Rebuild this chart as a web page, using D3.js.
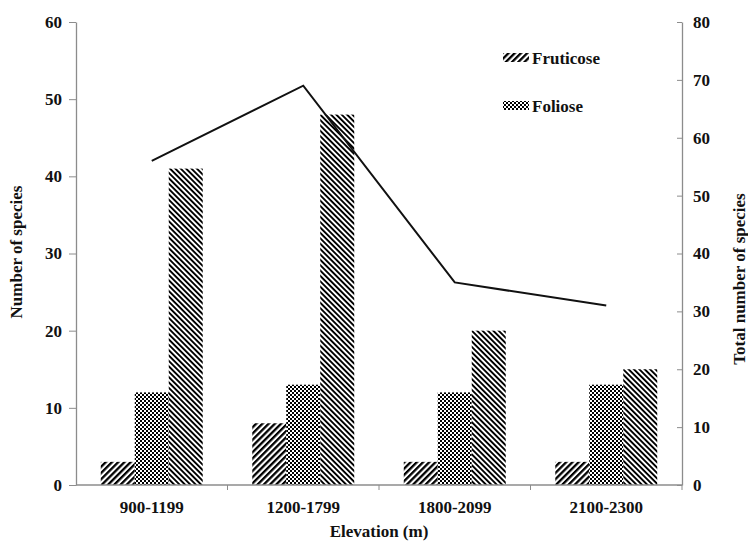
<!DOCTYPE html>
<html>
<head>
<meta charset="utf-8">
<script src="https://cdn.jsdelivr.net/npm/d3@7"></script>
<style>
  html, body { margin: 0; padding: 0; background: #fff; }
  svg text { font-family: "Liberation Serif", "Times New Roman", serif; font-weight: bold; fill: #111; }
</style>
</head>
<body>
<svg id="chart" width="748" height="542"></svg>
<script>
const categories = ["900-1199", "1200-1799", "1800-2099", "2100-2300"];
const seriesNames = ["Fruticose", "Foliose", "Crustose"];
const fruticose = [3, 8, 3, 3];
const foliose = [12, 13, 12, 13];
const crustose = [41, 48, 20, 15];
const totalSpecies = [56, 69, 35, 31];
const leftTicks = [0, 10, 20, 30, 40, 50, 60];
const rightTicks = [0, 10, 20, 30, 40, 50, 60, 70, 80];
const legendNames = ["Fruticose", "Foliose"];

const svg = d3.select("#chart");
const plot = { left: 76, right: 682, top: 22, bottom: 485 };
const fs = "17px";

const defs = svg.append("defs");
// Fruticose: "/" hatch
const p1 = defs.append("pattern").attr("id", "pat-fruticose")
  .attr("patternUnits", "userSpaceOnUse").attr("width", 4.4).attr("height", 10)
  .attr("patternTransform", "rotate(45)");
p1.append("rect").attr("width", 4.4).attr("height", 10).attr("fill", "#fff");
p1.append("rect").attr("width", 2.3).attr("height", 10).attr("fill", "#000");
// Foliose: fine checkerboard
const p2 = defs.append("pattern").attr("id", "pat-foliose")
  .attr("patternUnits", "userSpaceOnUse").attr("width", 4).attr("height", 4);
p2.append("rect").attr("width", 4).attr("height", 4).attr("fill", "#fff");
p2.append("rect").attr("width", 2).attr("height", 2).attr("fill", "#000");
p2.append("rect").attr("x", 2).attr("y", 2).attr("width", 2).attr("height", 2).attr("fill", "#000");
// Crustose: "\" hatch
const p3 = defs.append("pattern").attr("id", "pat-crustose")
  .attr("patternUnits", "userSpaceOnUse").attr("width", 3.8).attr("height", 10)
  .attr("patternTransform", "rotate(-45)");
p3.append("rect").attr("width", 3.8).attr("height", 10).attr("fill", "#fff");
p3.append("rect").attr("width", 1.9).attr("height", 10).attr("fill", "#000");

const fills = { "Fruticose": "url(#pat-fruticose)", "Foliose": "url(#pat-foliose)", "Crustose": "url(#pat-crustose)" };
const seriesData = { "Fruticose": fruticose, "Foliose": foliose, "Crustose": crustose };

const x = d3.scaleBand().domain(categories).range([plot.left, plot.right])
  .paddingInner(0.327).paddingOuter(0.1635);
const xs = d3.scaleBand().domain(seriesNames).range([0, x.bandwidth()]);
const yL = d3.scaleLinear().domain([0, 60]).range([plot.bottom, plot.top]);
const yR = d3.scaleLinear().domain([0, 80]).range([plot.bottom, plot.top]);

// Bars
categories.forEach((c, i) => {
  seriesNames.forEach(s => {
    const v = seriesData[s][i];
    svg.append("rect")
      .attr("x", x(c) + xs(s))
      .attr("y", yL(v))
      .attr("width", xs.bandwidth())
      .attr("height", yL(0) - yL(v))
      .attr("fill", fills[s]);
  });
});

// Axes
const axisColor = "#8c8c8c";
const gL = svg.append("g").attr("transform", `translate(${plot.left},0)`)
  .call(d3.axisLeft(yL).tickValues(leftTicks).tickSize(7).tickPadding(7).tickSizeOuter(0));
const gR = svg.append("g").attr("transform", `translate(${plot.right},0)`)
  .call(d3.axisRight(yR).tickValues(rightTicks).tickSize(-5).tickPadding(11).tickSizeOuter(0));
[gL, gR].forEach(g => {
  g.select(".domain").attr("stroke", axisColor).attr("stroke-width", 1.3);
  g.selectAll(".tick line").attr("stroke", axisColor);
  g.selectAll(".tick text").style("font-size", fs).attr("fill", "#111");
});

// X axis
svg.append("line").attr("x1", plot.left).attr("x2", plot.right)
  .attr("y1", yL(0)).attr("y2", yL(0)).attr("stroke", axisColor).attr("stroke-width", 1.3);
const boundaries = categories.map(c => x(c) + x.bandwidth() + x.step() * x.paddingInner() / 2);
svg.selectAll(".xtick").data(boundaries).enter().append("line")
  .attr("x1", d => d).attr("x2", d => d)
  .attr("y1", yL(0)).attr("y2", yL(0) + 5).attr("stroke", axisColor);
svg.selectAll(".xlabel").data(categories).enter().append("text")
  .attr("x", d => x(d) + x.bandwidth() / 2)
  .attr("y", yL(0) + 28)
  .attr("text-anchor", "middle").style("font-size", fs)
  .text(d => d);

// Line of totals
const line = d3.line()
  .x((d, i) => x(categories[i]) + x.bandwidth() / 2)
  .y(d => yR(d));
svg.append("path").datum(totalSpecies).attr("d", line)
  .attr("fill", "none").attr("stroke", "#111").attr("stroke-width", 2);

// Axis titles
svg.append("text").attr("x", (plot.left + plot.right) / 2).attr("y", 537)
  .attr("text-anchor", "middle").style("font-size", fs).text("Elevation (m)");
svg.append("text").attr("transform", "translate(22,252) rotate(-90)")
  .attr("text-anchor", "middle").style("font-size", fs).text("Number of species");
svg.append("text").attr("transform", "translate(745,279) rotate(-90)")
  .attr("text-anchor", "middle").style("font-size", fs).text("Total number of species");

// Legend
const legendY = d3.scalePoint().domain(legendNames).range([58, 106]);
legendNames.forEach(n => {
  svg.append("rect").attr("x", 503).attr("y", legendY(n) - 5).attr("width", 26).attr("height", 9)
    .attr("fill", fills[n]);
  svg.append("text").attr("x", 532).attr("y", legendY(n) + 6).style("font-size", fs).text(n);
});
</script>
</body>
</html>
